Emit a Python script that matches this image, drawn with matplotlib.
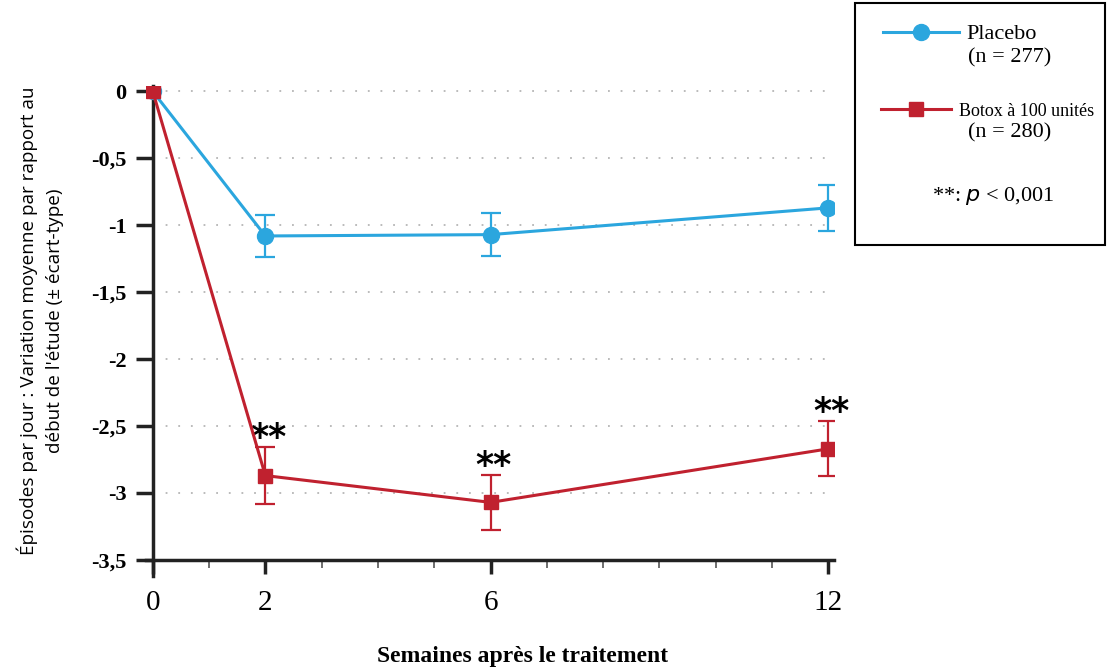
import numpy as np
import matplotlib.pyplot as plt
from matplotlib.patches import Rectangle
from matplotlib.ticker import MultipleLocator

weeks = [0, 2, 6, 12]
placebo_mean = [0, -1.08, -1.07, -0.87]
placebo_sd = [0, 0.16, 0.16, 0.17]
botox_mean = [0, -2.87, -3.07, -2.67]
botox_sd = [0, 0.21, 0.205, 0.205]
signif_weeks = [2, 6, 12]

y_ticks = [0, -0.5, -1, -1.5, -2, -2.5, -3, -3.5]
y_ticklabels = ["0", "-0,5", "-1", "-1,5", "-2", "-2,5", "-3", "-3,5"]
x_ticks = [0, 2, 6, 12]

blue = "#2ba6de"
red = "#c0212f"
serif = "Liberation Serif"

fig = plt.figure(figsize=(11.07, 6.70), dpi=100)
ax = fig.add_axes([0.1319, 0.1403, 0.6215, 0.7313])

# dotted grid, only between 0 and 12
for yv in y_ticks[:-1]:
    ax.plot([0, 12], [yv, yv], linestyle=(0, (1, 6)), color="#b5b5b5", lw=1.3, zorder=0)

ax.errorbar(weeks[1:], placebo_mean[1:], yerr=placebo_sd[1:], fmt="none",
            ecolor=blue, elinewidth=1.6, capsize=7, capthick=1.6, zorder=3)
placebo_line, = ax.plot(weeks, placebo_mean, color=blue, lw=2.2, marker="o",
                        markersize=11.5, zorder=4)

ax.errorbar(weeks[1:], botox_mean[1:], yerr=botox_sd[1:], fmt="none",
            ecolor=red, elinewidth=1.6, capsize=7, capthick=1.6, zorder=3)
botox_line, = ax.plot(weeks, botox_mean, color=red, lw=2.2, marker="s",
                      markersize=10, zorder=5)

for w in signif_weeks:
    i = weeks.index(w)
    ax.text(w + 0.05, botox_mean[i] + botox_sd[i] + 0.07, "**", ha="center", va="center",
            fontsize=25, fontweight="bold", fontfamily="DejaVu Sans", color="black")

ax.set_xlim(-0.12, 12.1)
ax.set_ylim(-3.62, 0.04)

ax.spines["top"].set_visible(False)
ax.spines["right"].set_visible(False)
ax.spines["left"].set_position(("data", 0))
ax.spines["bottom"].set_position(("data", -3.5))
for s in ["left", "bottom"]:
    ax.spines[s].set_linewidth(2.5)
    ax.spines[s].set_color("#222222")

ax.set_yticks(y_ticks)
ax.set_yticklabels(y_ticklabels, fontfamily=serif, fontweight="bold", fontsize=16)
ax.set_xticks(x_ticks)
ax.set_xticklabels([str(x) for x in x_ticks], fontfamily=serif, fontsize=21)
ax.xaxis.set_minor_locator(MultipleLocator(1))
ax.tick_params(axis="y", direction="out", length=12, width=2.5, color="#222222", pad=7)
ax.tick_params(axis="x", which="major", direction="out", length=10, width=2.5,
               color="#222222", pad=12)
ax.tick_params(axis="x", which="minor", direction="out", length=6, width=1.2,
               color="#555555")

ax.set_xlabel("Semaines après le traitement", fontfamily=serif, fontweight="bold",
              fontsize=17)
ax.xaxis.set_label_coords(0.548, -0.143)
ax.set_ylabel("Épisodes par jour : Variation moyenne par rapport au\ndébut de l'étude (± écart-type)",
              fontfamily="Open Sans", fontsize=13.6, linespacing=1.55)
ax.yaxis.set_label_coords(-0.119, 0.52)

# legend box outside the axes
fig.patches.append(Rectangle((855 / 1107, 1 - 245 / 670), 250 / 1107, 242 / 670,
                             transform=fig.transFigure, fill=False,
                             edgecolor="black", lw=1.5))
leg1 = fig.legend([placebo_line], ["Placebo"], loc="center left",
                  bbox_to_anchor=(883 / 1107, 1 - 34 / 670), frameon=False,
                  prop={"family": serif, "size": 16}, handlelength=3.4,
                  handletextpad=0.35, borderpad=0, borderaxespad=0)
leg2 = fig.legend([botox_line], ["Botox à 100 unités"], loc="center left",
                  bbox_to_anchor=(881 / 1107, 1 - 111 / 670), frameon=False,
                  prop={"family": serif, "size": 13}, handlelength=3.9,
                  handletextpad=0.4, borderpad=0, borderaxespad=0)
fig.text(968 / 1107, 1 - 58 / 670, "(n = 277)", ha="left", va="center",
         fontfamily=serif, fontsize=16)
fig.text(968 / 1107, 1 - 133 / 670, "(n = 280)", ha="left", va="center",
         fontfamily=serif, fontsize=16)
fig.text(993 / 1107, 1 - 196 / 670, "**: $p$ < 0,001", ha="center", va="center",
         fontfamily=serif, fontsize=16)

fig.savefig("out.png", dpi=100)
